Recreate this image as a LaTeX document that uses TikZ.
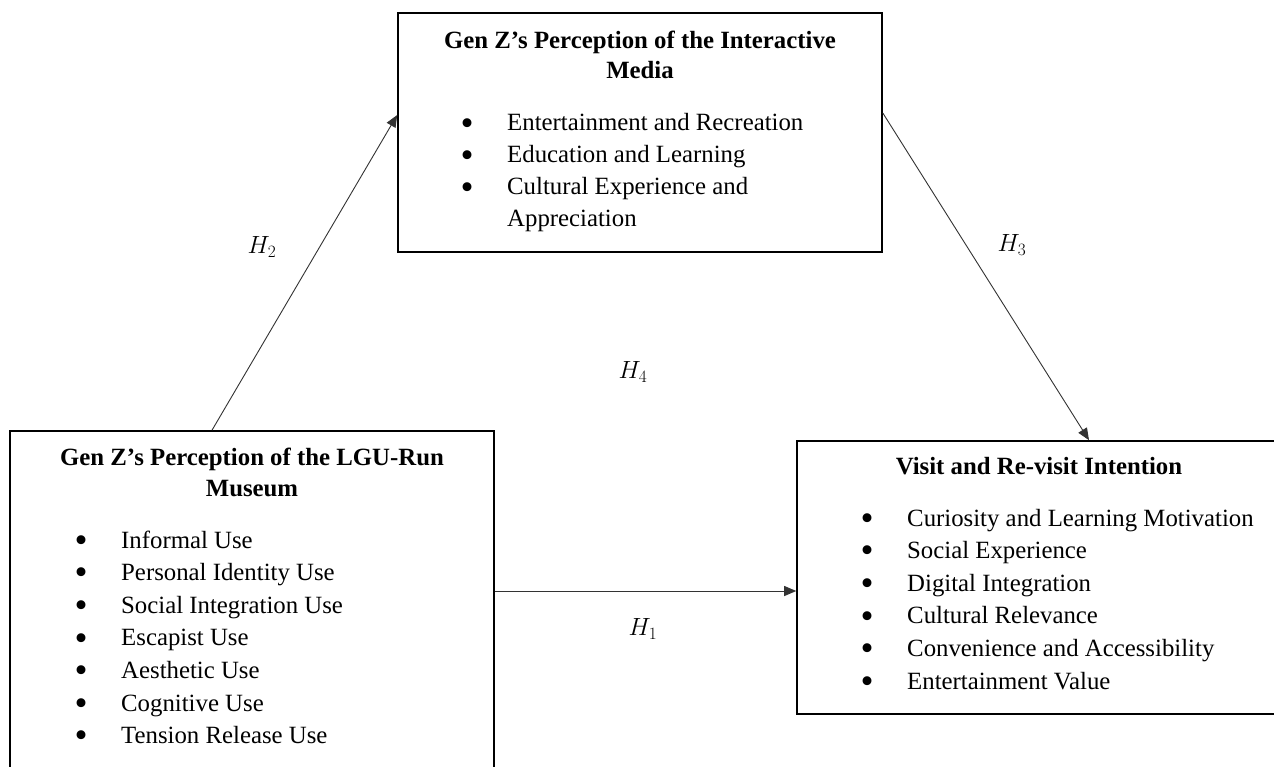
\documentclass[tikz,border=0pt]{standalone}
\usepackage{fontspec}
\usepackage{graphicx}
\setmainfont{Liberation Serif}
\usetikzlibrary{arrows.meta}
\tikzset{
  box/.style={draw=black, line width=1.6pt, rectangle, inner sep=0pt, fill=none},
  arr/.style={draw=black!80, line width=0.9pt, -{Triangle[length=12pt,width=10pt]}},
  ttl/.style={anchor=base, inner sep=0pt, font=\fontsize{24.8}{31}\selectfont\bfseries},
  itm/.style={anchor=base west, inner sep=0pt, font=\fontsize{24.8}{31}\selectfont},
  hyp/.style={anchor=center, inner sep=0pt, font=\fontsize{25}{28}\selectfont},
}
\newcommand{\bul}[1]{\makebox[80pt][c]{\smash{\raisebox{-0.17em}{\scalebox{1.5}{\textbullet}}}}#1}
\begin{document}
\begin{tikzpicture}[x=1pt,y=-1pt]
\useasboundingbox (0,0) rectangle (1274,767);
\clip (0,0) rectangle (1274,767);
\fill[white] (0,0) rectangle (1274,767);
% boxes
\node[box, minimum width=484pt, minimum height=239pt] (media) at (640,132.5) {};
\node[box, minimum width=484pt, minimum height=344pt] (museum) at (252,603) {};
\node[box, minimum width=484pt, minimum height=273pt] (visit) at (1039,577.5) {};
% top box text
\node[ttl] (t1a) at (640,49) {Gen Z’s Perception of the Interactive};
\node[ttl] (t1b) at (640,79) {Media};
\node[itm] (m1) at (427,131) {\bul{Entertainment and Recreation}};
\node[itm] (m2) at (427,163) {\bul{Education and Learning}};
\node[itm] (m3) at (427,195) {\bul{Cultural Experience and}};
\node[itm] (m4) at (507,227) {Appreciation};
% left box text
\node[ttl] (t2a) at (252,465) {Gen Z’s Perception of the LGU-Run};
\node[ttl] (t2b) at (252,496) {Museum};
\node[itm] (l1) at (41,548) {\bul{Informal Use}};
\node[itm] (l2) at (41,580.6) {\bul{Personal Identity Use}};
\node[itm] (l3) at (41,613.2) {\bul{Social Integration Use}};
\node[itm] (l4) at (41,645.8) {\bul{Escapist Use}};
\node[itm] (l5) at (41,678.4) {\bul{Aesthetic Use}};
\node[itm] (l6) at (41,711) {\bul{Cognitive Use}};
\node[itm] (l7) at (41,743.6) {\bul{Tension Release Use}};
% right box text
\node[ttl] (t3) at (1039,474) {Visit and Re-visit Intention};
\node[itm] (r1) at (827,526) {\bul{Curiosity and Learning Motivation}};
\node[itm] (r2) at (827,558.6) {\bul{Social Experience}};
\node[itm] (r3) at (827,591.2) {\bul{Digital Integration}};
\node[itm] (r4) at (827,623.8) {\bul{Cultural Relevance}};
\node[itm] (r5) at (827,656.4) {\bul{Convenience and Accessibility}};
\node[itm] (r6) at (827,689) {\bul{Entertainment Value}};
% arrows
\draw[arr] ([xshift=-40pt]museum.north) -- ([yshift=17.5pt]media.west);
\draw[arr] ([yshift=19.5pt]media.east) -- ([xshift=50pt]visit.north);
\draw[arr] ([yshift=12pt]museum.east) -- ([yshift=-13.5pt]visit.west);
% hypothesis labels
\node[hyp] (h2) at (262,247) {$H_2$};
\node[hyp] (h3) at (1012,245) {$H_3$};
\node[hyp] (h4) at (633,372) {$H_4$};
\node[hyp] (h1) at (643,629) {$H_1$};
\end{tikzpicture}
\end{document}
